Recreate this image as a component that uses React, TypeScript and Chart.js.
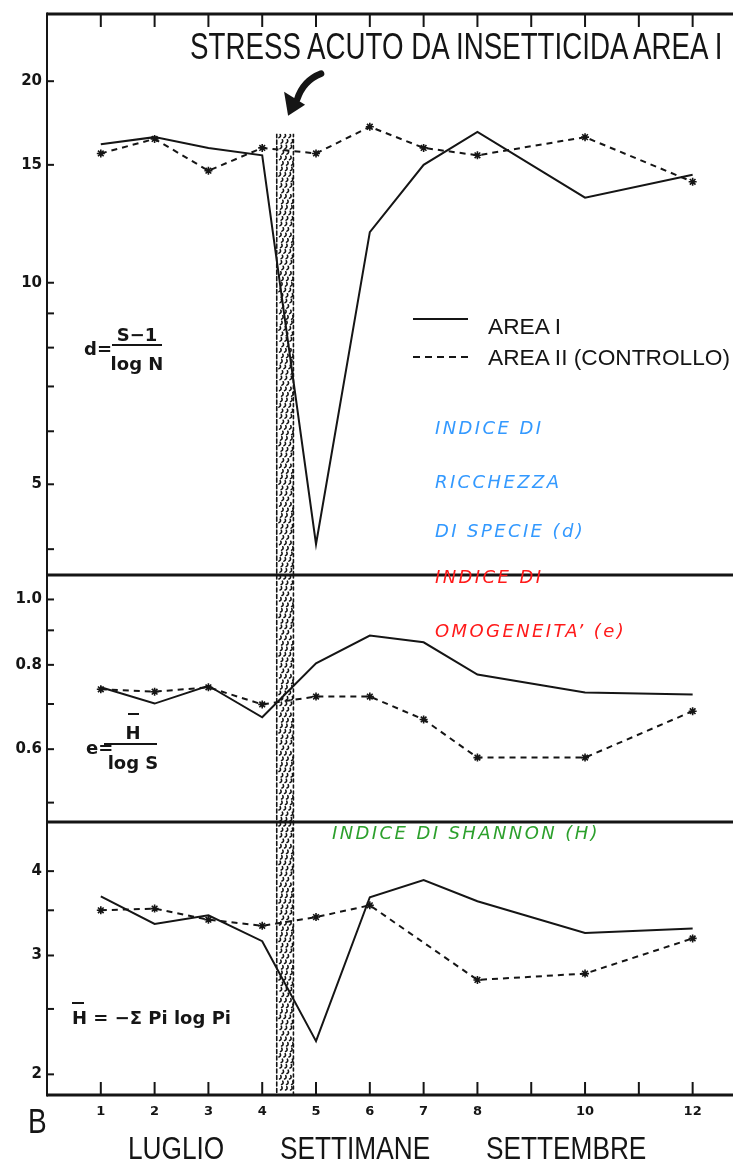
import React, { useEffect, useRef } from 'react';
import { Chart, registerables } from 'chart.js';

Chart.register(...registerables);

// ---------------- data ----------------
const WEEKS = [1, 2, 3, 4, 5, 6, 7, 8, 10, 12];

// Indice di ricchezza di specie (d)
const D_AREA_I = [16.1, 16.5, 15.9, 15.5, 4.07, 11.9, 15.0, 16.8, 13.4, 14.5];
const D_AREA_II = [15.6, 16.4, 14.7, 15.9, 15.6, 17.1, 15.9, 15.5, 16.5, 14.15];

// Indice di omogeneita' (e)
const E_AREA_I = [0.741, 0.701, 0.745, 0.669, 0.804, 0.884, 0.864, 0.774, 0.728, 0.723];
const E_AREA_II = [0.736, 0.73, 0.741, 0.699, 0.718, 0.718, 0.664, 0.583, 0.583, 0.683];

// Indice di Shannon (H)
const H_AREA_I = [3.67, 3.34, 3.44, 3.15, 2.24, 3.66, 3.88, 3.61, 3.24, 3.29];
const H_AREA_II = [3.5, 3.52, 3.39, 3.32, 3.42, 3.56, null, 2.76, 2.82, 3.18];

// tick values / labels
const X_TICKS = [1, 2, 3, 4, 5, 6, 7, 8, 9, 10, 11, 12];
const X_TICK_LABELS = ['1', '2', '3', '4', '5', '6', '7', '8', '', '10', '', '12'];
const D_TICKS = [4, 5, 6, 7, 8, 9, 10, 15, 20];
const D_TICK_LABELS = ['', '5', '', '', '', '', '10', '15', '20'];
const E_TICKS = [0.5, 0.6, 0.7, 0.8, 0.9, 1.0];
const E_TICK_LABELS = ['', '0.6', '', '0.8', '', '1.0'];
const H_TICKS = [2, 2.5, 3, 3.5, 4];
const H_TICK_LABELS = ['2', '', '3', '', '4'];

// insecticide stress (weeks) and where the band starts on the d scale
const STRESS_WEEKS = [4.27, 4.58];
const STRESS_BAND_TOP_D = 16.7;

// ---------------- style / layout ----------------
const INK = '#151515';
const CANVAS_W = 733;
const CANVAS_H = 1163;
const LEFT_AXIS_W = 47;
const X_AXIS_H = 30;

type PanelCfg = {
  area1: (number | null)[];
  area2: (number | null)[];
  yMin: number;
  yMax: number;
  yTicks: number[];
  yLabels: string[];
  top: number;
  bottom: number;
  showX: boolean;
  topBorder: boolean;
  xTicksTop: boolean;
  xTicksBottom: boolean;
  bandTop?: number;
  arrow?: boolean;
};

function line(ctx: CanvasRenderingContext2D, x0: number, y0: number, x1: number, y1: number) {
  ctx.beginPath();
  ctx.moveTo(x0, y0);
  ctx.lineTo(x1, y1);
  ctx.stroke();
}

function drawBand(ctx: CanvasRenderingContext2D, x0: number, x1: number, y0: number, y1: number) {
  ctx.save();
  ctx.beginPath();
  ctx.rect(x0 - 2, y0, x1 - x0 + 4, y1 - y0);
  ctx.clip();
  ctx.strokeStyle = INK;
  ctx.lineCap = 'round';
  ctx.lineWidth = 1.6;
  ctx.setLineDash([4, 2.5]);
  line(ctx, x0, y0, x0, y1);
  ctx.setLineDash([3, 3]);
  line(ctx, x1, y0, x1, y1);
  ctx.setLineDash([]);
  ctx.lineWidth = 1.6;
  const offs = [0, 2.2, 1.1, 3.0, 0.6, 2.6, 1.6];
  let row = 0;
  for (let y = y0 + 4; y < y1; y += 5.5, row++) {
    const off = offs[row % offs.length];
    for (let x = x0 + 2.2 + off; x < x1 - 1.5; x += 5) {
      ctx.beginPath();
      ctx.moveTo(x, y);
      ctx.quadraticCurveTo(x + 2.4, y - 1, x + 1.2, y - 3.4);
      ctx.stroke();
    }
  }
  ctx.restore();
}

function drawArrow(ctx: CanvasRenderingContext2D, tipX: number, tipY: number) {
  ctx.save();
  ctx.fillStyle = INK;
  ctx.strokeStyle = INK;
  ctx.lineCap = 'round';
  ctx.lineWidth = 6.5;
  ctx.beginPath();
  ctx.moveTo(tipX + 33, tipY - 42);
  ctx.quadraticCurveTo(tipX + 15, tipY - 35, tipX + 9, tipY - 16);
  ctx.stroke();
  ctx.beginPath();
  ctx.moveTo(tipX, tipY);
  ctx.lineTo(tipX - 4, tipY - 24);
  ctx.lineTo(tipX + 17, tipY - 11);
  ctx.closePath();
  ctx.fill();
  ctx.restore();
}

function panelPlugin(cfg: PanelCfg, id: string) {
  return {
    id,
    beforeDatasetsDraw(chart: any) {
      const { ctx, chartArea: a, scales } = chart;
      const x0 = scales.x.getPixelForValue(STRESS_WEEKS[0]);
      const x1 = scales.x.getPixelForValue(STRESS_WEEKS[1]);
      const y0 = cfg.bandTop != null ? scales.y.getPixelForValue(cfg.bandTop) : a.top;
      drawBand(ctx, x0, x1, y0, a.bottom);
    },
    afterDraw(chart: any) {
      const { ctx, chartArea: a, scales } = chart;
      ctx.save();
      ctx.strokeStyle = INK;
      ctx.lineCap = 'butt';
      ctx.lineWidth = 2;
      line(ctx, a.left, a.top - (cfg.topBorder ? 1.5 : 0), a.left, a.bottom + 1.5);
      ctx.lineWidth = 3;
      line(ctx, a.left, a.bottom, a.right, a.bottom);
      if (cfg.topBorder) line(ctx, a.left, a.top, a.right, a.top);
      ctx.lineWidth = 2;
      for (const t of scales.y.ticks) {
        const py = scales.y.getPixelForValue(t.value);
        line(ctx, a.left, py, a.left + 7, py);
      }
      for (const w of X_TICKS) {
        const px = scales.x.getPixelForValue(w);
        if (cfg.xTicksTop) line(ctx, px, a.top, px, a.top + 13);
        if (cfg.xTicksBottom) line(ctx, px, a.bottom, px, a.bottom - 13);
      }
      ctx.restore();
      if (cfg.arrow && cfg.bandTop != null) {
        const cx = (scales.x.getPixelForValue(STRESS_WEEKS[0]) + scales.x.getPixelForValue(STRESS_WEEKS[1])) / 2;
        const yTop = scales.y.getPixelForValue(cfg.bandTop);
        drawArrow(ctx, cx + 3, yTop - 18);
      }
    },
  };
}

function buildConfig(cfg: PanelCfg, id: string): any {
  const pts = (arr: (number | null)[]) => WEEKS.map((w, i) => ({ x: w, y: arr[i] }));
  return {
    type: 'line',
    data: {
      datasets: [
        {
          label: 'AREA II (CONTROLLO)',
          data: pts(cfg.area2),
          borderColor: INK,
          borderWidth: 2,
          borderDash: [6, 5],
          pointStyle: 'star',
          pointRadius: 4,
          pointBorderColor: INK,
          pointBorderWidth: 1.6,
          pointBackgroundColor: INK,
          tension: 0,
          spanGaps: true,
          fill: false,
        },
        {
          label: 'AREA I',
          data: pts(cfg.area1),
          borderColor: INK,
          borderWidth: 2,
          pointRadius: 0,
          tension: 0,
          spanGaps: true,
          fill: false,
        },
      ],
    },
    options: {
      responsive: false,
      animation: false,
      devicePixelRatio: 1,
      layout: {
        autoPadding: false,
        padding: {
          left: 0,
          right: 0,
          top: cfg.top,
          bottom: cfg.showX ? CANVAS_H - cfg.bottom - X_AXIS_H : CANVAS_H - cfg.bottom,
        },
      },
      plugins: { legend: { display: false }, tooltip: { enabled: false }, title: { display: false } },
      scales: {
        x: {
          type: 'linear',
          min: 0,
          max: 12.75,
          bounds: 'data',
          display: cfg.showX,
          grid: { display: false, drawTicks: false },
          border: { display: false },
          afterBuildTicks: (s: any) => {
            s.ticks = X_TICKS.map((v) => ({ value: v }));
          },
          afterFit: (s: any) => {
            if (cfg.showX) s.height = X_AXIS_H;
          },
          ticks: {
            autoSkip: false,
            maxRotation: 0,
            padding: 9,
            color: INK,
            font: { family: 'DejaVu Sans', size: 13, weight: 'bold' },
            callback: (_v: any, i: number) => X_TICK_LABELS[i] ?? '',
          },
        },
        y: {
          type: 'logarithmic',
          min: cfg.yMin,
          max: cfg.yMax,
          bounds: 'data',
          grid: { display: false, drawTicks: false },
          border: { display: false },
          afterBuildTicks: (s: any) => {
            s.ticks = cfg.yTicks.map((v) => ({ value: v }));
          },
          afterFit: (s: any) => {
            s.width = LEFT_AXIS_W;
          },
          ticks: {
            autoSkip: false,
            padding: 5,
            color: INK,
            font: { family: 'DejaVu Sans', size: 15, weight: 'bold' },
            callback: (_v: any, i: number) => cfg.yLabels[i] ?? '',
          },
        },
      },
    },
    plugins: [panelPlugin(cfg, id)],
  };
}

const PANEL_D: PanelCfg = {
  area1: D_AREA_I,
  area2: D_AREA_II,
  yMin: 3.66,
  yMax: 25.2,
  yTicks: D_TICKS,
  yLabels: D_TICK_LABELS,
  top: 14,
  bottom: 575,
  showX: false,
  topBorder: true,
  xTicksTop: true,
  xTicksBottom: false,
  bandTop: STRESS_BAND_TOP_D,
  arrow: true,
};

const PANEL_E: PanelCfg = {
  area1: E_AREA_I,
  area2: E_AREA_II,
  yMin: 0.468,
  yMax: 1.087,
  yTicks: E_TICKS,
  yLabels: E_TICK_LABELS,
  top: 575,
  bottom: 822,
  showX: false,
  topBorder: false,
  xTicksTop: false,
  xTicksBottom: false,
};

const PANEL_H: PanelCfg = {
  area1: H_AREA_I,
  area2: H_AREA_II,
  yMin: 1.864,
  yMax: 4.73,
  yTicks: H_TICKS,
  yLabels: H_TICK_LABELS,
  top: 822,
  bottom: 1095,
  showX: true,
  topBorder: false,
  xTicksTop: false,
  xTicksBottom: true,
};

// ---------------- text helpers ----------------
const SANS = "'Liberation Sans', Arial, sans-serif";
const DJV = "'DejaVu Sans', sans-serif";

type TxtProps = {
  x: number;
  cy: number;
  size: number;
  family?: string;
  weight?: string | number;
  italic?: boolean;
  color?: string;
  sx?: number;
  ls?: number;
  center?: boolean;
  children: React.ReactNode;
};

function Txt({ x, cy, size, family = SANS, weight = 'normal', italic = false, color = INK, sx = 1, ls = 0, center = false, children }: TxtProps) {
  const style: React.CSSProperties = {
    position: 'absolute',
    left: center ? x - 100 : x,
    width: center ? 200 : undefined,
    textAlign: center ? 'center' : 'left',
    top: cy - 0.485 * size,
    fontSize: size,
    fontFamily: family,
    fontWeight: weight as any,
    fontStyle: italic ? 'italic' : 'normal',
    color,
    letterSpacing: ls,
    lineHeight: 1,
    whiteSpace: 'nowrap',
    transform: sx !== 1 ? `scaleX(${sx})` : undefined,
    transformOrigin: center ? '50% 0' : '0 0',
  };
  return <div style={style}>{children}</div>;
}

function Bar({ x0, x1, y, h = 2 }: { x0: number; x1: number; y: number; h?: number }) {
  return <div style={{ position: 'absolute', left: x0, top: y - h / 2, width: x1 - x0, height: h, background: INK }} />;
}

const BLUE = '#3399ff';
const RED = '#ff1a1a';
const GREEN = '#2ca02c';

export default function App() {
  const refD = useRef<HTMLCanvasElement>(null);
  const refE = useRef<HTMLCanvasElement>(null);
  const refH = useRef<HTMLCanvasElement>(null);

  useEffect(() => {
    const charts = [
      new Chart(refD.current as HTMLCanvasElement, buildConfig(PANEL_D, 'panelD')),
      new Chart(refE.current as HTMLCanvasElement, buildConfig(PANEL_E, 'panelE')),
      new Chart(refH.current as HTMLCanvasElement, buildConfig(PANEL_H, 'panelH')),
    ];
    return () => charts.forEach((c) => c.destroy());
  }, []);

  const canvasStyle: React.CSSProperties = { position: 'absolute', left: 0, top: 0, display: 'block' };

  return (
    <div
      style={{
        position: 'absolute',
        left: 0,
        top: 0,
        width: CANVAS_W,
        height: CANVAS_H,
        overflow: 'hidden',
        background: '#fff',
      }}
    >
      <canvas ref={refD} width={CANVAS_W} height={CANVAS_H} style={canvasStyle} />
      <canvas ref={refE} width={CANVAS_W} height={CANVAS_H} style={canvasStyle} />
      <canvas ref={refH} width={CANVAS_W} height={CANVAS_H} style={canvasStyle} />

      {/* title */}
      <Txt x={190} cy={46} size={36} sx={0.77}>STRESS ACUTO DA INSETTICIDA AREA I</Txt>

      {/* legend */}
      <Bar x0={413} x1={468} y={319} h={2.5} />
      <div
        style={{
          position: 'absolute',
          left: 413,
          top: 357 - 1.25,
          width: 60,
          height: 2.5,
          background: `repeating-linear-gradient(to right, ${INK} 0px, ${INK} 7px, transparent 7px, transparent 12px)`,
        }}
      />
      <Txt x={488} cy={326} size={22.7}>AREA I</Txt>
      <Txt x={488} cy={357} size={22.7}>AREA II (CONTROLLO)</Txt>

      {/* coloured annotations */}
      <Txt x={435} cy={428} size={18} family={DJV} italic color={BLUE} ls={2.4}>INDICE DI</Txt>
      <Txt x={435} cy={482} size={18} family={DJV} italic color={BLUE} ls={2.4}>RICCHEZZA</Txt>
      <Txt x={435} cy={531} size={18} family={DJV} italic color={BLUE} ls={2.4}>DI SPECIE (d)</Txt>
      <Txt x={435} cy={577} size={18} family={DJV} italic color={RED} ls={2.4}>INDICE DI</Txt>
      <Txt x={435} cy={631} size={18} family={DJV} italic color={RED} ls={2.4}>OMOGENEITA’ (e)</Txt>
      <Txt x={332} cy={833} size={18} family={DJV} italic color={GREEN} ls={2.4}>INDICE DI SHANNON (H)</Txt>

      {/* formula d */}
      <Txt x={84} cy={349} size={18} family={DJV} weight="bold">d=</Txt>
      <Txt x={137} cy={335} size={18} family={DJV} weight="bold" center>S−1</Txt>
      <Bar x0={112} x1={162} y={345} />
      <Txt x={137} cy={364} size={18} family={DJV} weight="bold" center>log N</Txt>

      {/* formula e */}
      <Txt x={86} cy={748} size={18} family={DJV} weight="bold">e=</Txt>
      <Bar x0={128} x1={139} y={714} />
      <Txt x={133} cy={733} size={18} family={DJV} weight="bold" center>H</Txt>
      <Bar x0={104} x1={157} y={744} />
      <Txt x={133} cy={763} size={18} family={DJV} weight="bold" center>log S</Txt>

      {/* formula H */}
      <Bar x0={72} x1={84} y={1003} />
      <Txt x={72} cy={1018} size={18} family={DJV} weight="bold">H = −Σ Pi log Pi</Txt>

      {/* bottom labels */}
      <Txt x={28} cy={1120} size={35} sx={0.8}>B</Txt>
      <Txt x={128} cy={1148} size={32} sx={0.82}>LUGLIO</Txt>
      <Txt x={280} cy={1148} size={32} sx={0.82}>SETTIMANE</Txt>
      <Txt x={486} cy={1148} size={32} sx={0.82}>SETTEMBRE</Txt>
    </div>
  );
}
